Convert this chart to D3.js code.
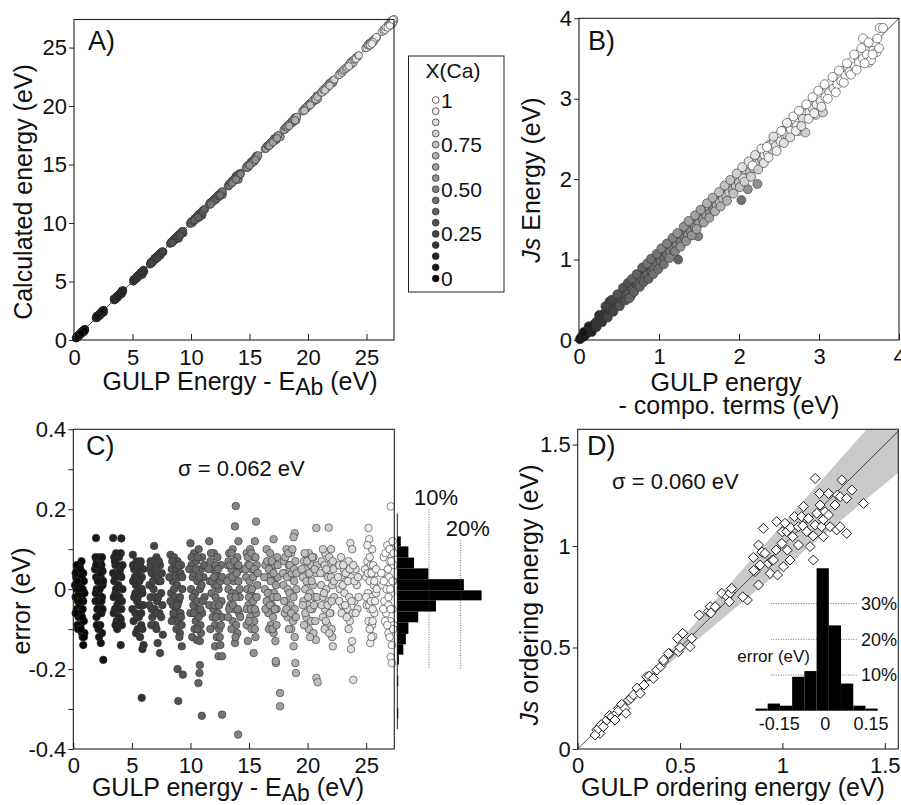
<!DOCTYPE html>
<html lang="en">
<head>
<meta charset="UTF-8">
<title>Js model vs GULP energies</title>
<script src="https://d3js.org/d3.v7.min.js"></script>
<style>
  body { margin: 0; background: #fff; }
  svg text { font-family: "Liberation Sans", Arial, sans-serif; fill: #111; }
</style>
</head>
<body>
<script>
const width = 901, height = 805;

// legend levels of X(Ca)
const xcaLevels = [0, 0.0625, 0.125, 0.1875, 0.25, 0.3125, 0.375, 0.4375, 0.5,
                   0.5625, 0.625, 0.6875, 0.75, 0.8125, 0.875, 0.9375, 1];
const xcaTicks  = [0, 0.25, 0.5, 0.75, 1];
const xcaLabels = ["0", "0.25", "0.50", "0.75", "1"];

// panel C (and A): one row per composition k = 0..16, points [GULP energy - EAb, error]
const errRows = [
  [[0.15,0.01],[0.2,-0.02],[0.25,0.03],[0.3,0.0],[0.3,-0.05],[0.35,0.05],[0.4,-0.03],[0.4,0.02],[0.45,-0.07],[0.5,0.04],[0.5,-0.01],[0.55,0.06],[0.55,-0.04],[0.6,0.01],[0.6,-0.09],[0.65,0.03],[0.65,-0.06],[0.7,0.07],[0.7,-0.02],[0.75,-0.11],[0.75,0.02],[0.8,-0.05],[0.85,-0.14],[0.85,0.04],[0.9,-0.08],[0.95,-0.01],[0.95,-0.11],[0.35,-0.09],[0.45,0.06],[0.8,-0.12],
   [0.2,0.04],[0.25,-0.06],[0.3,0.06],[0.4,-0.1],[0.45,0.0],[0.5,-0.06],[0.55,0.01],[0.6,0.05],[0.65,-0.1],[0.7,0.03],[0.75,-0.07],[0.8,0.0],[0.85,-0.03],[0.9,0.02],[0.9,-0.12],[0.35,0.02],[0.6,-0.03],[0.2,-0.06]],
  [[1.94,0.128],[1.9,0.08],[2.0,0.07],[2.1,0.05],[2.3,0.07],[2.4,0.06],[1.95,0.03],[2.2,0.02],[2.35,0.03],[2.5,0.01],[2.0,0.0],[2.15,-0.01],[2.45,-0.02],[1.9,-0.03],[2.25,-0.04],[2.05,-0.05],[2.4,-0.06],[2.3,-0.09],[2.15,-0.1],[2.45,-0.11],[2.2,-0.12],[2.35,-0.135],[2.56,-0.177],[2.5,0.045],[1.98,-0.07],
   [1.85,0.05],[1.92,-0.01],[2.05,0.06],[2.1,-0.03],[2.2,0.08],[2.25,0.0],[2.3,-0.06],[2.35,0.05],[2.4,-0.03],[2.5,-0.05],[2.55,0.02],[2.0,-0.09],[2.1,0.02],[2.3,0.04],[1.95,0.06],[2.45,0.08]],
  [[3.4,0.128],[4.1,0.127],[3.5,0.08],[3.9,0.08],[3.6,0.06],[4.0,0.05],[3.7,0.04],[3.5,0.02],[3.85,0.01],[4.1,0.03],[3.6,-0.01],[3.95,-0.02],[3.75,-0.04],[4.15,-0.03],[3.55,-0.05],[3.9,-0.07],[3.7,-0.08],[4.05,-0.075],[3.6,-0.09],[4.05,-0.14],[3.8,0.0],[4.2,0.0],[3.45,-0.02],[3.65,0.09],
   [3.4,0.04],[3.45,-0.06],[3.55,0.07],[3.65,0.0],[3.7,-0.05],[3.8,0.06],[3.85,-0.05],[3.95,0.04],[4.0,-0.08],[4.05,0.09],[4.1,-0.05],[4.2,0.06],[3.6,0.03],[3.75,-0.1],[3.9,-0.03],[4.15,-0.09]],
  [[5.08,0.086],[5.4,0.07],[5.7,0.065],[5.2,0.05],[5.5,0.04],[5.85,0.03],[5.1,0.02],[5.35,0.01],[5.6,0.0],[5.9,-0.01],[5.2,-0.02],[5.45,-0.03],[5.75,-0.04],[5.3,-0.06],[5.6,-0.07],[5.8,-0.09],[5.5,-0.1],[5.7,-0.12],[6.0,-0.14],[5.9,-0.15],[5.84,-0.272],[5.05,-0.05],[5.95,0.05],
   [5.1,0.06],[5.15,-0.08],[5.25,0.03],[5.3,-0.01],[5.4,0.05],[5.45,-0.07],[5.55,0.06],[5.6,-0.04],[5.65,0.02],[5.75,0.07],[5.8,-0.06],[5.85,0.0],[5.9,-0.1],[5.35,-0.11],[5.5,-0.02],[5.95,-0.04]],
  [[6.9,0.108],[6.6,0.07],[7.1,0.08],[7.4,0.06],[6.7,0.04],[7.0,0.03],[7.3,0.02],[6.5,0.01],[6.85,0.0],[7.5,-0.01],[6.6,-0.02],[7.15,-0.03],[6.95,-0.05],[7.35,-0.06],[6.75,-0.07],[7.6,-0.04],[7.2,-0.135],[7.4,-0.16],[7.64,-0.114],[7.0,-0.09],[6.55,0.05],
   [6.5,-0.04],[6.6,0.06],[6.7,-0.05],[6.8,0.02],[6.85,0.07],[6.95,-0.02],[7.05,0.05],[7.1,-0.06],[7.2,0.03],[7.25,-0.02],[7.3,0.07],[7.45,0.02],[7.5,-0.07],[7.55,0.04],[6.65,-0.09],[7.1,-0.1]],
  [[8.3,0.086],[8.6,0.08],[8.9,0.07],[9.2,0.06],[8.4,0.05],[8.75,0.04],[9.05,0.03],[8.5,0.02],[8.85,0.01],[9.3,0.0],[8.35,-0.01],[8.65,-0.02],[9.0,-0.03],[8.5,-0.04],[8.8,-0.05],[9.15,-0.06],[8.6,-0.07],[8.95,-0.08],[9.25,-0.09],[8.8,-0.1],[9.1,-0.11],[9.26,-0.143],[8.9,-0.2],[9.35,-0.214],[8.96,-0.28],
   [8.2,0.03],[8.3,-0.03],[8.45,0.07],[8.55,-0.06],[8.6,0.0],[8.7,0.06],[8.75,-0.08],[8.85,0.05],[8.9,-0.04],[9.0,0.06],[9.1,-0.02],[9.15,0.04],[9.2,-0.07],[9.3,0.03],[8.4,-0.08],[9.05,-0.12]],
  [[10.0,0.115],[10.3,0.09],[10.7,0.1],[11.0,0.08],[10.1,0.06],[10.5,0.07],[10.9,0.05],[10.2,0.03],[10.6,0.02],[11.1,0.03],[10.05,0.0],[10.4,-0.01],[10.8,0.0],[11.2,-0.02],[10.25,-0.04],[10.65,-0.05],[11.0,-0.06],[10.45,-0.08],[10.85,-0.09],[10.15,-0.12],[10.54,-0.127],[10.8,-0.13],[10.8,-0.19],[10.77,-0.21],[10.68,-0.235],[10.97,-0.317],[10.9,-0.11],
   [9.9,0.05],[10.0,-0.06],[10.1,0.08],[10.2,-0.02],[10.3,0.04],[10.35,-0.1],[10.45,0.05],[10.55,-0.03],[10.6,0.08],[10.7,-0.07],[10.75,0.03],[10.85,-0.05],[10.95,0.01],[11.05,-0.03],[11.15,0.06],[10.3,-0.06],[10.6,-0.1]],
  [[11.6,0.12],[12.0,0.09],[12.3,0.08],[11.7,0.07],[12.6,0.06],[11.9,0.05],[12.2,0.04],[12.5,0.03],[11.65,0.02],[12.05,0.01],[12.4,0.0],[11.8,-0.01],[12.15,-0.02],[12.65,-0.03],[11.95,-0.05],[12.35,-0.06],[12.7,-0.07],[12.1,-0.09],[12.45,-0.1],[12.25,-0.12],[12.1,-0.143],[12.55,-0.14],[12.4,-0.168],[12.7,-0.168],[12.7,-0.314],
   [11.55,0.05],[11.6,-0.04],[11.75,0.09],[11.85,0.02],[11.9,-0.07],[12.0,0.03],[12.05,-0.04],[12.15,0.06],[12.2,-0.07],[12.3,0.01],[12.35,0.05],[12.45,-0.04],[12.55,0.02],[12.6,-0.09],[12.7,0.03],[11.7,-0.1],[12.5,-0.12]],
  [[13.87,0.208],[13.8,0.157],[14.1,0.12],[13.3,0.09],[13.6,0.1],[14.0,0.08],[13.2,0.06],[13.5,0.05],[13.9,0.06],[14.25,0.05],[13.35,0.03],[13.7,0.02],[14.1,0.02],[13.25,0.0],[13.55,-0.01],[13.95,-0.01],[14.2,-0.02],[13.4,-0.04],[13.75,-0.05],[14.15,-0.06],[13.6,-0.08],[13.9,-0.09],[13.2,-0.07],[13.8,-0.135],[14.0,-0.11],[14.07,-0.364],
   [13.15,0.02],[13.25,0.07],[13.3,-0.05],[13.4,0.06],[13.45,-0.02],[13.5,0.09],[13.6,0.03],[13.65,-0.04],[13.75,0.07],[13.85,-0.02],[13.95,0.04],[14.05,-0.05],[14.1,0.06],[14.2,0.0],[14.25,-0.07],[13.5,-0.1],[13.85,-0.12]],
  [[15.6,0.169],[15.5,0.12],[14.8,0.09],[15.1,0.1],[15.4,0.08],[14.9,0.06],[15.2,0.05],[15.65,0.06],[14.75,0.03],[15.05,0.02],[15.35,0.03],[15.7,0.01],[14.85,0.0],[15.15,-0.01],[15.5,-0.02],[14.95,-0.04],[15.3,-0.05],[15.6,-0.06],[15.1,-0.07],[15.45,-0.08],[14.8,-0.09],[14.9,-0.13],[15.4,-0.16],[15.55,-0.12],
   [14.7,0.05],[14.8,-0.05],[14.9,0.08],[15.0,-0.02],[15.05,0.06],[15.15,-0.05],[15.2,0.09],[15.25,0.0],[15.35,-0.03],[15.45,0.05],[15.5,-0.05],[15.55,0.08],[15.65,-0.02],[15.75,0.04],[15.2,-0.1],[15.5,-0.1],[15.0,-0.08]],
  [[17.1,0.125],[16.5,0.1],[16.8,0.09],[17.4,0.08],[16.4,0.06],[16.9,0.05],[17.2,0.06],[16.6,0.03],[17.0,0.02],[17.45,0.03],[16.35,0.0],[16.75,-0.01],[17.15,-0.01],[16.5,-0.03],[16.95,-0.04],[17.35,-0.05],[16.65,-0.06],[17.05,-0.07],[16.85,-0.09],[17.1,-0.11],[17.25,-0.13],[17.3,-0.185],[17.28,-0.18],[17.65,-0.26],[17.65,-0.293],
   [16.3,0.03],[16.4,-0.05],[16.55,0.07],[16.6,-0.01],[16.7,0.05],[16.8,-0.04],[16.85,0.02],[16.95,0.07],[17.05,-0.02],[17.1,0.04],[17.2,-0.05],[17.3,0.01],[17.4,-0.02],[17.45,0.06],[16.7,-0.1],[17.0,-0.1],[17.35,-0.09]],
  [[18.9,0.14],[18.8,0.13],[18.2,0.1],[18.6,0.09],[18.0,0.07],[18.4,0.06],[18.95,0.07],[18.1,0.04],[18.5,0.03],[18.85,0.02],[17.95,0.01],[18.3,0.0],[18.7,-0.01],[19.05,0.0],[18.15,-0.03],[18.55,-0.04],[18.9,-0.05],[18.3,-0.07],[18.75,-0.08],[18.05,-0.06],[18.8,-0.143],[18.95,-0.185],[19.0,-0.21],[18.6,-0.1],
   [17.9,0.04],[18.0,-0.03],[18.1,0.08],[18.2,-0.05],[18.25,0.03],[18.35,0.09],[18.45,-0.01],[18.5,0.06],[18.6,-0.06],[18.65,0.04],[18.7,0.1],[18.8,-0.02],[18.85,0.05],[19.0,-0.07],[19.05,0.04],[18.4,-0.1],[18.9,-0.12]],
  [[20.75,0.153],[20.1,0.09],[19.7,0.07],[20.5,0.08],[19.9,0.05],[20.3,0.06],[20.7,0.04],[19.6,0.03],[20.0,0.02],[20.45,0.01],[19.8,0.0],[20.2,-0.01],[20.6,-0.02],[19.65,-0.03],[20.05,-0.04],[20.4,-0.05],[19.9,-0.07],[20.3,-0.08],[20.1,-0.1],[20.5,-0.11],[20.7,-0.127],[20.75,-0.222],[20.86,-0.233],[20.8,0.06],
   [19.5,0.05],[19.6,-0.04],[19.75,0.09],[19.8,-0.06],[19.9,0.02],[19.95,0.07],[20.05,-0.02],[20.15,0.04],[20.25,-0.05],[20.35,0.02],[20.4,0.08],[20.55,-0.04],[20.6,0.05],[20.65,-0.08],[20.8,-0.02],[19.7,-0.09],[20.2,-0.12]],
  [[21.8,0.154],[21.5,0.09],[22.0,0.1],[21.2,0.07],[21.7,0.06],[22.2,0.05],[21.4,0.04],[21.9,0.03],[21.15,0.01],[21.6,0.0],[22.1,0.01],[21.35,-0.02],[21.8,-0.03],[22.25,-0.02],[21.5,-0.05],[21.95,-0.06],[21.3,-0.07],[21.7,-0.09],[22.05,-0.1],[22.1,-0.12],[22.15,-0.143],
   [21.1,0.04],[21.2,-0.04],[21.3,0.1],[21.4,-0.01],[21.45,0.06],[21.55,-0.08],[21.6,0.05],[21.7,-0.04],[21.75,0.03],[21.85,0.08],[21.9,-0.06],[22.0,0.03],[22.05,-0.03],[22.15,0.07],[22.25,0.02],[21.45,-0.1],[21.85,-0.11]],
  [[23.65,0.115],[23.8,0.1],[22.7,0.06],[23.1,0.05],[23.5,0.07],[24.1,0.05],[22.9,0.03],[23.3,0.02],[23.7,0.03],[24.2,0.01],[22.75,0.0],[23.15,-0.01],[23.55,-0.02],[24.0,-0.03],[22.95,-0.04],[23.4,-0.05],[23.85,-0.06],[24.25,-0.05],[23.6,-0.08],[23.7,-0.15],[23.8,-0.13],[23.9,-0.227],
   [22.6,0.03],[22.7,-0.03],[22.85,0.08],[22.9,-0.06],[23.0,0.01],[23.05,0.06],[23.2,-0.04],[23.25,0.04],[23.35,-0.07],[23.45,0.02],[23.6,0.05],[23.75,-0.03],[23.9,0.06],[24.0,0.02],[24.1,-0.06],[24.3,0.03],[24.35,-0.02],[23.5,-0.1]],
  [[25.2,0.153],[25.25,0.125],[25.5,0.1],[25.1,0.07],[25.4,0.06],[25.8,0.04],[25.0,0.03],[25.3,0.02],[25.65,0.01],[25.15,-0.01],[25.45,-0.02],[25.85,-0.01],[25.05,-0.04],[25.35,-0.05],[25.7,-0.06],[25.2,-0.08],[25.5,-0.09],[25.35,-0.135],[25.6,-0.118],[25.9,0.0],
   [24.9,0.05],[25.0,-0.02],[25.1,0.11],[25.15,0.04],[25.25,-0.04],[25.3,0.08],[25.4,-0.03],[25.45,0.04],[25.55,-0.05],[25.6,0.06],[25.7,0.02],[25.75,-0.03],[25.85,0.05],[25.3,-0.1],[25.55,-0.08],[25.45,-0.12]],
  [[27.1,0.207],[26.8,0.11],[27.2,0.1],[26.5,0.08],[27.0,0.07],[27.35,0.06],[26.6,0.04],[26.95,0.03],[27.3,0.02],[26.4,0.01],[26.75,0.0],[27.15,-0.01],[26.55,-0.03],[26.9,-0.04],[27.25,-0.05],[26.7,-0.06],[27.05,-0.08],[27.35,-0.09],[26.9,-0.11],[27.2,-0.14],[27.1,-0.17],[27.2,-0.185],
   [26.3,0.04],[26.45,-0.05],[26.5,0.02],[26.6,-0.08],[26.65,0.09],[26.85,0.05],[26.9,-0.02],[27.0,0.1],[27.05,0.0],[27.1,-0.05],[27.15,0.07],[27.25,0.02],[27.3,-0.1],[27.35,0.09],[26.8,-0.09],[27.0,-0.12],[27.25,0.12]]
];

// side histogram of panel C: bin edges (eV) and share of structures (%)
const histCEdges = [0.132, 0.107, 0.079, 0.052, 0.025, -0.003, -0.028, -0.056, -0.083,
                    -0.112, -0.138, -0.164, -0.189, -0.216, -0.243, -0.270, -0.297, -0.324];
const histCPct   = [1.1, 3.5, 5.3, 9.8, 21.0, 26.6, 12.2, 6.6, 3.5, 2.7, 1.9, 0.5, 0, 0.3, 0, 0, 0.3];
const histCRefPct = [10, 20];
const histCRefTop = [0.2, 0.123];

// panel B: [composition k, GULP energy - compo. terms, Js energy]
const bPts = [
  [0,0.01,0.01],[0,0.02,0.02],[0,0.03,0.04],[1,0.04,0.03],[1,0.05,0.06],[1,0.07,0.05],[1,0.08,0.09],[1,0.1,0.08],[2,0.11,0.12],[2,0.13,0.11],
  [2,0.15,0.15],[2,0.17,0.14],[2,0.19,0.2],[2,0.2,0.17],[3,0.22,0.23],[3,0.24,0.21],[3,0.26,0.27],[3,0.28,0.25],[3,0.3,0.32],[3,0.32,0.28],
  [4,0.34,0.36],[3,0.35,0.33],[4,0.37,0.4],[4,0.38,0.48],[4,0.4,0.37],[4,0.42,0.44],[4,0.44,0.4],[5,0.45,0.5],[4,0.47,0.45],[5,0.5,0.48],
  [5,0.52,0.55],[5,0.53,0.5],[4,0.55,0.6],[5,0.57,0.53],[5,0.6,0.62],[6,0.62,0.58],[5,0.64,0.67],[5,0.65,0.55],[6,0.67,0.64],[6,0.7,0.74],
  [5,0.72,0.68],[6,0.74,0.71],[6,0.75,0.79],[6,0.78,0.74],[5,0.8,0.83],[6,0.82,0.78],[6,0.84,0.86],[7,0.86,0.82],[6,0.88,0.91],[6,0.9,0.85],
  [7,0.92,0.96],[7,0.94,0.9],[6,0.96,0.99],[7,0.98,0.95],
  [7,1.0,1.03],[7,1.02,0.98],[8,1.05,1.08],[7,1.07,1.02],[8,1.08,1.12],[7,1.1,1.06],[8,1.12,1.16],[8,1.14,1.1],[7,1.16,1.19],[8,1.18,1.13],
  [9,1.2,1.24],[8,1.22,1.18],[6,1.24,1.0],[9,1.25,1.28],[8,1.27,1.22],[9,1.3,1.33],[8,1.32,1.27],[9,1.34,1.38],[9,1.36,1.3],[10,1.38,1.42],
  [9,1.4,1.35],[10,1.42,1.46],[8,1.43,1.31],[9,1.45,1.4],[8,1.49,1.29],[10,1.48,1.52],[10,1.5,1.45],[9,1.53,1.56],[10,1.55,1.5],[11,1.57,1.62],
  [10,1.59,1.55],[11,1.62,1.66],[10,1.64,1.58],[11,1.66,1.7],[9,1.68,1.62],[12,1.7,1.74],[11,1.72,1.67],[10,1.74,1.78],[12,1.76,1.71],[11,1.78,1.82],
  [12,1.8,1.76],[10,1.82,1.87],[12,1.84,1.79],[11,1.86,1.9],[13,1.88,1.84],[12,1.9,1.95],[11,1.92,1.87],[13,1.94,1.98],[12,1.96,1.91],[7,2.03,1.74],
  [13,1.98,2.02],[12,2.0,1.96],[13,2.02,2.06],[14,2.05,2.01],[13,2.08,2.12],[9,2.11,1.875],[16,2.12,2.17],[12,2.14,2.1],[14,2.16,2.2],[9,2.23,1.94],
  [13,2.18,2.14],[16,2.2,2.22],[14,2.22,2.26],[13,2.25,2.2],[15,2.27,2.3],[12,2.29,2.24],
  [16,2.32,2.3],[14,2.34,2.38],[15,2.36,2.32],[14,2.38,2.43],[16,2.4,2.42],[13,2.42,2.36],[15,2.44,2.48],[14,2.46,2.41],[16,2.5,2.55],[15,2.52,2.47],
  [14,2.55,2.6],[16,2.58,2.54],[13,2.6,2.55],[15,2.62,2.67],[16,2.65,2.62],[14,2.67,2.71],[16,2.7,2.73],[15,2.72,2.66],[13,2.75,2.6],[16,2.77,2.8],
  [14,2.8,2.75],[16,2.82,2.86],[13,2.83,2.58],[16,2.86,2.9],[15,2.88,2.84],[16,2.9,2.94],[14,2.92,2.88],[16,2.95,2.99],[15,2.97,2.93],[14,2.96,2.8],
  [16,3.0,3.05],[15,3.02,2.97],[13,3.05,2.83],[16,3.05,3.1],[16,3.08,3.02],[15,3.1,3.14],[16,3.13,3.08],[16,3.15,3.2],[15,3.18,3.13],[16,3.2,3.26],
  [16,3.23,3.18],[15,3.26,3.3],[16,3.28,3.22],[16,3.3,3.35],[16,3.33,3.29],[16,3.36,3.4],[16,3.38,3.33],[16,3.42,3.47],[16,3.45,3.4],[16,3.48,3.52],
  [16,3.5,3.45],[16,3.52,3.58],[16,3.55,3.5],[16,3.58,3.62],[16,3.6,3.55],[16,3.62,3.45],[16,3.65,3.68],[16,3.68,3.6],[16,3.55,3.75],[16,3.7,3.7],
  [16,3.72,3.58],[16,3.76,3.88],[16,3.8,3.88],[16,3.75,3.63],[16,3.65,3.48],
  [1,0.06,0.1],[2,0.12,0.17],[2,0.16,0.1],[3,0.22,0.16],[3,0.25,0.31],[3,0.29,0.22],[4,0.33,0.42],[4,0.36,0.28],[4,0.41,0.5],[4,0.43,0.35],
  [5,0.48,0.57],[5,0.51,0.42],[5,0.55,0.65],[5,0.58,0.49],[5,0.61,0.71],[6,0.63,0.52],[6,0.66,0.76],[6,0.69,0.6],[6,0.72,0.82],[6,0.76,0.66],
  [6,0.79,0.9],[6,0.81,0.72],[7,0.85,0.95],[6,0.87,0.76],[7,0.9,1.01],[7,0.93,0.82],[7,0.97,1.07],[7,0.99,0.88],[8,1.03,1.14],[7,1.06,0.94],
  [8,1.1,1.2],[8,1.13,1.02],[8,1.17,1.27],[8,1.2,1.1],[9,1.23,1.33],[9,1.27,1.16],[9,1.31,1.41],[9,1.34,1.23],[10,1.37,1.48],[9,1.41,1.3],
  [10,1.45,1.55],[10,1.47,1.38],[10,1.52,1.62],[10,1.56,1.46],[11,1.6,1.7],[10,1.63,1.52],[11,1.67,1.77],[11,1.7,1.6],[12,1.75,1.84],[11,1.77,1.66],
  [12,1.82,1.92],[11,1.85,1.73],[12,1.89,1.99],[12,1.93,1.82],[13,1.97,2.07],[12,2.01,1.9],[14,2.04,2.15],[13,2.07,1.97],[14,2.12,2.22],[13,2.15,2.03],
  [16,2.17,2.17],[14,2.2,2.3],[13,2.24,2.12],[15,2.28,2.38],[14,2.31,2.2],[16,2.35,2.4],[15,2.37,2.27],[14,2.43,2.53],[15,2.47,2.35],[16,2.53,2.6],
  [14,2.56,2.45],[15,2.6,2.7],[14,2.64,2.52],[16,2.68,2.78],[15,2.71,2.6],[16,2.75,2.85],[14,2.78,2.66],[16,2.84,2.93],[15,2.87,2.75],[16,2.92,3.02],
  [15,2.94,2.82],[16,2.99,3.1],[15,3.03,2.9],[16,3.07,3.18],[16,3.11,3.0],[16,3.17,3.27],[16,3.21,3.08],[16,3.25,3.35],[16,3.31,3.2],[16,3.35,3.44],
  [16,3.4,3.3],[16,3.44,3.55],[16,3.47,3.36],[16,3.53,3.63],[16,3.57,3.44],[16,3.62,3.7],[16,3.67,3.55],[16,3.73,3.75]
];

// panel D: [GULP ordering energy, Js ordering energy]
const dPts = [
  [0.093,0.094],[0.109,0.077],[0.085,0.069],[0.1,0.1],[0.115,0.12],[0.125,0.11],[0.142,0.143],[0.155,0.165],[0.166,0.159],[0.19,0.176],
  [0.182,0.143],[0.199,0.2],[0.2,0.19],[0.215,0.22],[0.231,0.2],[0.236,0.176],[0.248,0.241],[0.26,0.25],[0.272,0.266],[0.29,0.3],
  [0.305,0.274],[0.337,0.356],[0.324,0.315],[0.35,0.36],[0.37,0.348],[0.386,0.389],[0.406,0.406],[0.42,0.43],[0.419,0.438],[0.45,0.47],
  [0.443,0.471],[0.492,0.479],[0.5,0.5],[0.487,0.545],[0.513,0.57],[0.549,0.504],[0.557,0.545],[0.594,0.66],[0.638,0.677],[0.647,0.701],
  [0.65,0.67],[0.671,0.701],[0.704,0.767],[0.73,0.75],[0.744,0.767],[0.741,0.726],[0.752,0.791],[0.829,0.734],[0.806,0.75],[0.858,0.944],
  [0.883,0.808],[0.866,0.874],[0.86,0.88],[0.891,0.906],[0.883,1.005],[0.9,0.97],[0.907,1.087],[0.915,0.964],[0.94,0.865],[0.932,0.915],
  [0.95,0.93],[0.956,0.931],[0.976,0.857],[0.969,0.98],[0.972,1.12],[0.997,1.013],[1.0,1.07],[1.005,0.898],[1.013,1.112],[1.021,1.071],
  [1.024,0.98],[1.037,0.931],[1.04,1.09],[1.05,1.046],[1.059,1.145],[1.078,1.095],[1.078,1.005],[1.094,1.145],[1.1,1.1],[1.103,1.194],
  [1.119,1.071],[1.127,1.136],[1.135,0.997],[1.15,1.05],[1.151,0.931],[1.16,1.103],[1.16,1.333],[1.168,1.161],[1.181,1.259],[1.184,1.202],
  [1.192,1.095],[1.2,1.046],[1.2,1.13],[1.208,1.169],[1.225,1.259],[1.225,1.153],[1.233,1.095],[1.257,1.202],[1.265,1.079],[1.269,1.251],
  [1.282,1.095],[1.282,1.243],[1.29,1.325],[1.314,1.235],[1.314,1.062],[1.339,1.276],[1.396,1.21]
];
// grey confidence band of panel D
const bandX  = [0.27, 1.6];
const bandHi = [0.275, 1.79];
const bandLo = [0.275, 1.39];

// inset histogram of panel D
const histDEdges = [-0.228, -0.188, -0.148, -0.108, -0.068, -0.028, 0.012, 0.052, 0.092, 0.132, 0.172];
const histDPct   = [0.6, 2.0, 1.4, 9.5, 11.1, 39.9, 23.9, 7.6, 1.4, 0.6];
const histDRef   = [10, 20, 30];
const histDTicks = [-0.15, 0, 0.15];

const svg = d3.select("body").append("svg")
    .attr("width", width)
    .attr("height", height);
svg.append("rect").attr("width", width).attr("height", height).attr("fill", "#fff");

const gray = d3.scaleLinear().domain([0, 1]).range(["#050505", "#ffffff"]);
const kGray = k => gray(xcaLevels[k]);

function panel(box, xDom, yDom) {
    return {
        box: box,
        x: d3.scaleLinear().domain(xDom).range([box.l, box.r]),
        y: d3.scaleLinear().domain(yDom).range([box.b, box.t])
    };
}

function axes(p, xTicks, yTicks, xPad, yMinor) {
    const fmt = d => String(d);
    svg.append("g")
        .attr("transform", "translate(0," + p.box.b + ")")
        .call(d3.axisBottom(p.x).tickValues(xTicks).tickFormat(fmt)
              .tickSizeInner(-6).tickSizeOuter(0).tickPadding(xPad))
        .call(g => g.select(".domain").remove())
        .call(g => g.selectAll("line").attr("stroke", "#222"))
        .call(g => g.selectAll("text").attr("font-size", 22).attr("font-family", null));
    svg.append("g")
        .attr("transform", "translate(" + p.box.l + ",0)")
        .call(d3.axisLeft(p.y).tickValues(yTicks).tickFormat(fmt)
              .tickSizeInner(5).tickSizeOuter(0).tickPadding(2))
        .call(g => g.select(".domain").remove())
        .call(g => g.selectAll("line").attr("stroke", "#222"))
        .call(g => g.selectAll("text").attr("font-size", 22).attr("font-family", null));
    if (yMinor) {
        svg.append("g")
            .attr("transform", "translate(" + p.box.l + ",0)")
            .call(d3.axisLeft(p.y).tickValues(yMinor).tickFormat("").tickSizeInner(5).tickSizeOuter(0))
            .call(g => g.select(".domain").remove())
            .call(g => g.selectAll("line").attr("stroke", "#222"));
    }
}

function frame(p) {
    svg.append("rect")
        .attr("x", p.box.l).attr("y", p.box.t)
        .attr("width", p.box.r - p.box.l).attr("height", p.box.b - p.box.t)
        .attr("fill", "none").attr("stroke", "#222").attr("stroke-width", 1.1);
}

function letter(txt, x, y) {
    svg.append("text").attr("x", x).attr("y", y).attr("font-size", 27).text(txt);
}

function yTitle(x, y, parts) {
    const t = svg.append("text")
        .attr("transform", "translate(" + x + "," + y + ") rotate(-90)")
        .attr("text-anchor", "middle").attr("font-size", 25);
    parts.forEach(pt => {
        const s = t.append("tspan").text(pt[0]);
        if (pt[1]) s.attr("font-style", "italic");
    });
}

function eabTitle(x, y, lead) {
    const t = svg.append("text").attr("x", x).attr("y", y)
        .attr("text-anchor", "middle").attr("font-size", 25);
    t.append("tspan").text(lead + " - E");
    t.append("tspan").attr("dy", 5).attr("font-size", 23).text("Ab");
    t.append("tspan").attr("dy", -5).text(" (eV)");
}

// flatten composition rows
const cPts = [];
errRows.forEach((row, k) => row.forEach(d => cPts.push({k: k, g: d[0], e: d[1]})));

// ---------------- A ----------------
const pA = panel({l: 74, t: 19.5, r: 394, b: 340}, [0, 27.35], [0, 27.4]);
svg.append("line")
    .attr("x1", pA.x(0)).attr("y1", pA.y(0))
    .attr("x2", pA.x(27.35)).attr("y2", pA.y(27.35))
    .attr("stroke", "#222").attr("stroke-width", 0.8);
svg.append("g").selectAll("circle")
    .data(cPts)
    .join("circle")
    .attr("cx", d => pA.x(d.g))
    .attr("cy", d => pA.y(d.g + d.e))
    .attr("r", 3.7)
    .attr("fill", d => kGray(d.k))
    .attr("stroke", "#333").attr("stroke-width", 0.6);
frame(pA);
axes(pA, [0, 5, 10, 15, 20, 25], [0, 5, 10, 15, 20, 25], 9);
letter("A)", 88, 50);
yTitle(32, 192, [["Calculated energy (eV)"]]);
eabTitle(240, 390, "GULP Energy");

// ---------------- legend ----------------
svg.append("rect")
    .attr("x", 408.5).attr("y", 56).attr("width", 95.5).attr("height", 236)
    .attr("fill", "#fff").attr("stroke", "#222").attr("stroke-width", 1);
svg.append("text").attr("x", 453).attr("y", 78).attr("text-anchor", "middle")
    .attr("font-size", 21).text("X(Ca)");
const legY = d3.scaleLinear().domain([0, 1]).range([278.5, 100]);
svg.append("g").selectAll("circle")
    .data(xcaLevels)
    .join("circle")
    .attr("cx", 435.7).attr("cy", d => legY(d))
    .attr("r", 3.4)
    .attr("fill", d => gray(d))
    .attr("stroke", "#222").attr("stroke-width", 0.7);
svg.append("g").selectAll("text")
    .data(xcaTicks)
    .join("text")
    .attr("x", 441).attr("y", d => legY(d) + 7.5)
    .attr("font-size", 21)
    .text((d, i) => xcaLabels[i]);

// ---------------- B ----------------
const pB = panel({l: 579, t: 18.3, r: 899, b: 340}, [0, 4], [0, 4]);
svg.append("line")
    .attr("x1", pB.x(0)).attr("y1", pB.y(0))
    .attr("x2", pB.x(4)).attr("y2", pB.y(4))
    .attr("stroke", "#222").attr("stroke-width", 0.8);
svg.append("g").selectAll("circle")
    .data(bPts)
    .join("circle")
    .attr("cx", d => pB.x(d[1]))
    .attr("cy", d => pB.y(d[2]))
    .attr("r", 4.5)
    .attr("fill", d => kGray(d[0]))
    .attr("stroke", "#333").attr("stroke-width", 0.6);
frame(pB);
axes(pB, [0, 1, 2, 3, 4], [0, 1, 2, 3, 4], 8);
letter("B)", 588, 50);
yTitle(540, 180, [["Js", true], [" Energy (eV)"]]);
svg.append("text").attr("x", 726).attr("y", 391).attr("text-anchor", "middle")
    .attr("font-size", 25).text("GULP energy");
svg.append("text").attr("x", 729).attr("y", 414).attr("text-anchor", "middle")
    .attr("font-size", 25).text("- compo. terms (eV)");

// ---------------- C ----------------
const pC = panel({l: 73.3, t: 429.3, r: 394.3, b: 749}, [0, 27.4], [-0.4, 0.4]);
svg.append("g").selectAll("circle")
    .data(cPts)
    .join("circle")
    .attr("cx", d => pC.x(d.g))
    .attr("cy", d => pC.y(d.e))
    .attr("r", 3.8)
    .attr("fill", d => kGray(d.k))
    .attr("stroke", "#333").attr("stroke-width", 0.6);
frame(pC);
axes(pC, [0, 5, 10, 15, 20, 25], [-0.4, -0.2, 0, 0.2, 0.4], 8, [-0.3, -0.1, 0.1, 0.3]);
letter("C)", 86, 455);
yTitle(30, 601, [["error (eV)"]]);
eabTitle(228, 796, "GULP energy");
svg.append("text").attr("x", 178).attr("y", 476).attr("font-size", 22).text("σ = 0.062 eV");

// side histogram
const hx = d3.scaleLinear().domain([0, 10]).range([397.3, 429]);
svg.append("line")
    .attr("x1", hx(0)).attr("x2", hx(0))
    .attr("y1", pC.y(0.19)).attr("y2", pC.y(-0.35))
    .attr("stroke", "#222").attr("stroke-width", 1);
svg.append("g").selectAll("rect")
    .data(histCPct)
    .join("rect")
    .attr("x", hx(0))
    .attr("y", (d, i) => pC.y(histCEdges[i]))
    .attr("width", d => hx(d) - hx(0))
    .attr("height", (d, i) => pC.y(histCEdges[i + 1]) - pC.y(histCEdges[i]))
    .attr("fill", "#000");
histCRefPct.forEach((v, i) => {
    svg.append("line")
        .attr("x1", hx(v)).attr("x2", hx(v))
        .attr("y1", pC.y(histCRefTop[i])).attr("y2", pC.y(-0.2))
        .attr("stroke", "#444").attr("stroke-width", 0.8).attr("stroke-dasharray", "1,1.5");
    svg.append("text").attr("x", hx(v) + 7).attr("y", pC.y(histCRefTop[i]) - 4)
        .attr("text-anchor", "middle").attr("font-size", 22).text(v + "%");
});

// ---------------- D ----------------
const pD = panel({l: 577.7, t: 429.3, r: 898.3, b: 749}, [0, 1.566], [0, 1.575]);
svg.append("clipPath").attr("id", "clipD").append("rect")
    .attr("x", pD.box.l).attr("y", pD.box.t)
    .attr("width", pD.box.r - pD.box.l).attr("height", pD.box.b - pD.box.t);
const gD = svg.append("g").attr("clip-path", "url(#clipD)");
const bandPoly = [[bandX[0], bandHi[0]], [bandX[1], bandHi[1]], [bandX[1], bandLo[1]], [bandX[0], bandLo[0]]];
gD.append("path")
    .attr("d", d3.line().x(d => pD.x(d[0])).y(d => pD.y(d[1]))(bandPoly) + "Z")
    .attr("fill", "#c9c9c9");
gD.append("line")
    .attr("x1", pD.x(0)).attr("y1", pD.y(0))
    .attr("x2", pD.x(1.6)).attr("y2", pD.y(1.6))
    .attr("stroke", "#222").attr("stroke-width", 0.8);
gD.append("g").selectAll("path")
    .data(dPts)
    .join("path")
    .attr("d", d3.symbol(d3.symbolSquare, 50))
    .attr("transform", d => "translate(" + pD.x(d[0]) + "," + pD.y(d[1]) + ") rotate(45)")
    .attr("fill", "#fff")
    .attr("stroke", "#111").attr("stroke-width", 0.9);

// inset histogram
const ix = d3.scaleLinear().domain([-0.15, 0.15]).range([779.3, 871]);
const iy = d3.scaleLinear().domain([0, 10]).range([710.7, 675]);
histDRef.forEach(v => {
    svg.append("line")
        .attr("x1", 770.7).attr("x2", 858.3)
        .attr("y1", iy(v)).attr("y2", iy(v))
        .attr("stroke", "#444").attr("stroke-width", 0.8).attr("stroke-dasharray", "1,1.5");
    svg.append("text").attr("x", 861).attr("y", iy(v)).attr("dy", "0.36em")
        .attr("font-size", 18).text(v + "%");
});
svg.append("g").selectAll("rect")
    .data(histDPct)
    .join("rect")
    .attr("x", (d, i) => ix(histDEdges[i]))
    .attr("width", (d, i) => ix(histDEdges[i + 1]) - ix(histDEdges[i]))
    .attr("y", d => iy(d))
    .attr("height", d => iy(0) - iy(d))
    .attr("fill", "#000");
svg.append("g").selectAll("text")
    .data(histDTicks)
    .join("text")
    .attr("x", d => ix(d)).attr("y", 730)
    .attr("text-anchor", "middle").attr("font-size", 18)
    .text(d => String(d));
svg.append("text").attr("x", 810).attr("y", 662).attr("text-anchor", "end")
    .attr("font-size", 17).text("error (eV)");

frame(pD);
axes(pD, [0, 0.5, 1, 1.5], [0, 0.5, 1, 1.5], 8);
letter("D)", 587, 455);
yTitle(538, 595, [["Js", true], ["  ordering energy (eV)"]]);
svg.append("text").attr("x", 733).attr("y", 796).attr("text-anchor", "middle")
    .attr("font-size", 25).text("GULP ordering energy (eV)");
svg.append("text").attr("x", 612).attr("y", 489).attr("font-size", 22).text("σ = 0.060 eV");
</script>
</body>
</html>
